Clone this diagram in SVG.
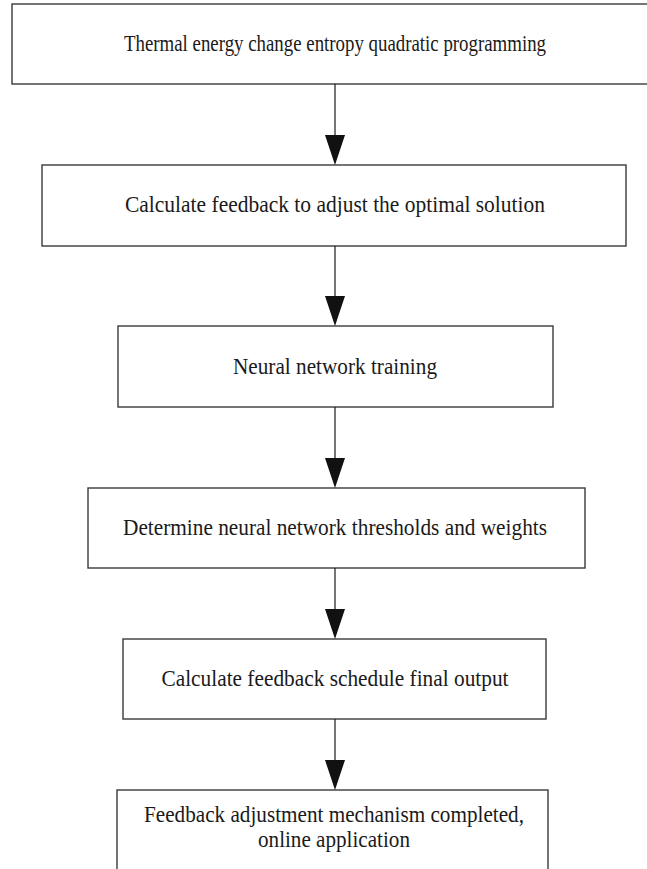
<svg xmlns="http://www.w3.org/2000/svg" width="647" height="869" viewBox="0 0 647 869">
<defs>
<style>
.box{fill:#ffffff;stroke:#3a3a3a;stroke-width:1.4}
.lbl{font-family:"Liberation Serif","Times New Roman",serif;font-size:22.5px;fill:#1a1a1a;text-anchor:middle}
.edge{stroke:#1a1a1a;stroke-width:1.2;fill:none}
.head{fill:#111111}
</style>
</defs>
<rect width="647" height="869" fill="#ffffff"/>
<g id="node1"><rect class="box" x="12" y="4" width="646" height="80"/><text class="lbl" x="335" y="51" textLength="422" lengthAdjust="spacingAndGlyphs">Thermal energy change entropy quadratic programming</text></g>
<g id="node2"><rect class="box" x="42" y="165" width="584" height="81"/><text class="lbl" x="335" y="212" textLength="420" lengthAdjust="spacingAndGlyphs">Calculate feedback to adjust the optimal solution</text></g>
<g id="node3"><rect class="box" x="118" y="326" width="435" height="81"/><text class="lbl" x="335" y="374" textLength="204" lengthAdjust="spacingAndGlyphs">Neural network training</text></g>
<g id="node4"><rect class="box" x="88" y="488" width="497" height="80"/><text class="lbl" x="335" y="535" textLength="424" lengthAdjust="spacingAndGlyphs">Determine neural network thresholds and weights</text></g>
<g id="node5"><rect class="box" x="123" y="639" width="423" height="80"/><text class="lbl" x="335" y="686" textLength="347" lengthAdjust="spacingAndGlyphs">Calculate feedback schedule final output</text></g>
<g id="node6"><rect class="box" x="117" y="790" width="431" height="100"/><text class="lbl" x="334" y="822" textLength="380" lengthAdjust="spacingAndGlyphs">Feedback adjustment mechanism completed,</text><text class="lbl" x="334" y="847" textLength="152" lengthAdjust="spacingAndGlyphs">online application</text></g>
<g id="connectors">
<path class="edge" d="M335 84V136"/><path class="head" d="M325 135H345L335 165Z"/>
<path class="edge" d="M335 246V297"/><path class="head" d="M325 296H345L335 326Z"/>
<path class="edge" d="M335 407V459"/><path class="head" d="M325 458H345L335 488Z"/>
<path class="edge" d="M335 568V610"/><path class="head" d="M325 609H345L335 639Z"/>
<path class="edge" d="M335 719V761"/><path class="head" d="M325 760H345L335 790Z"/>
</g>
</svg>
